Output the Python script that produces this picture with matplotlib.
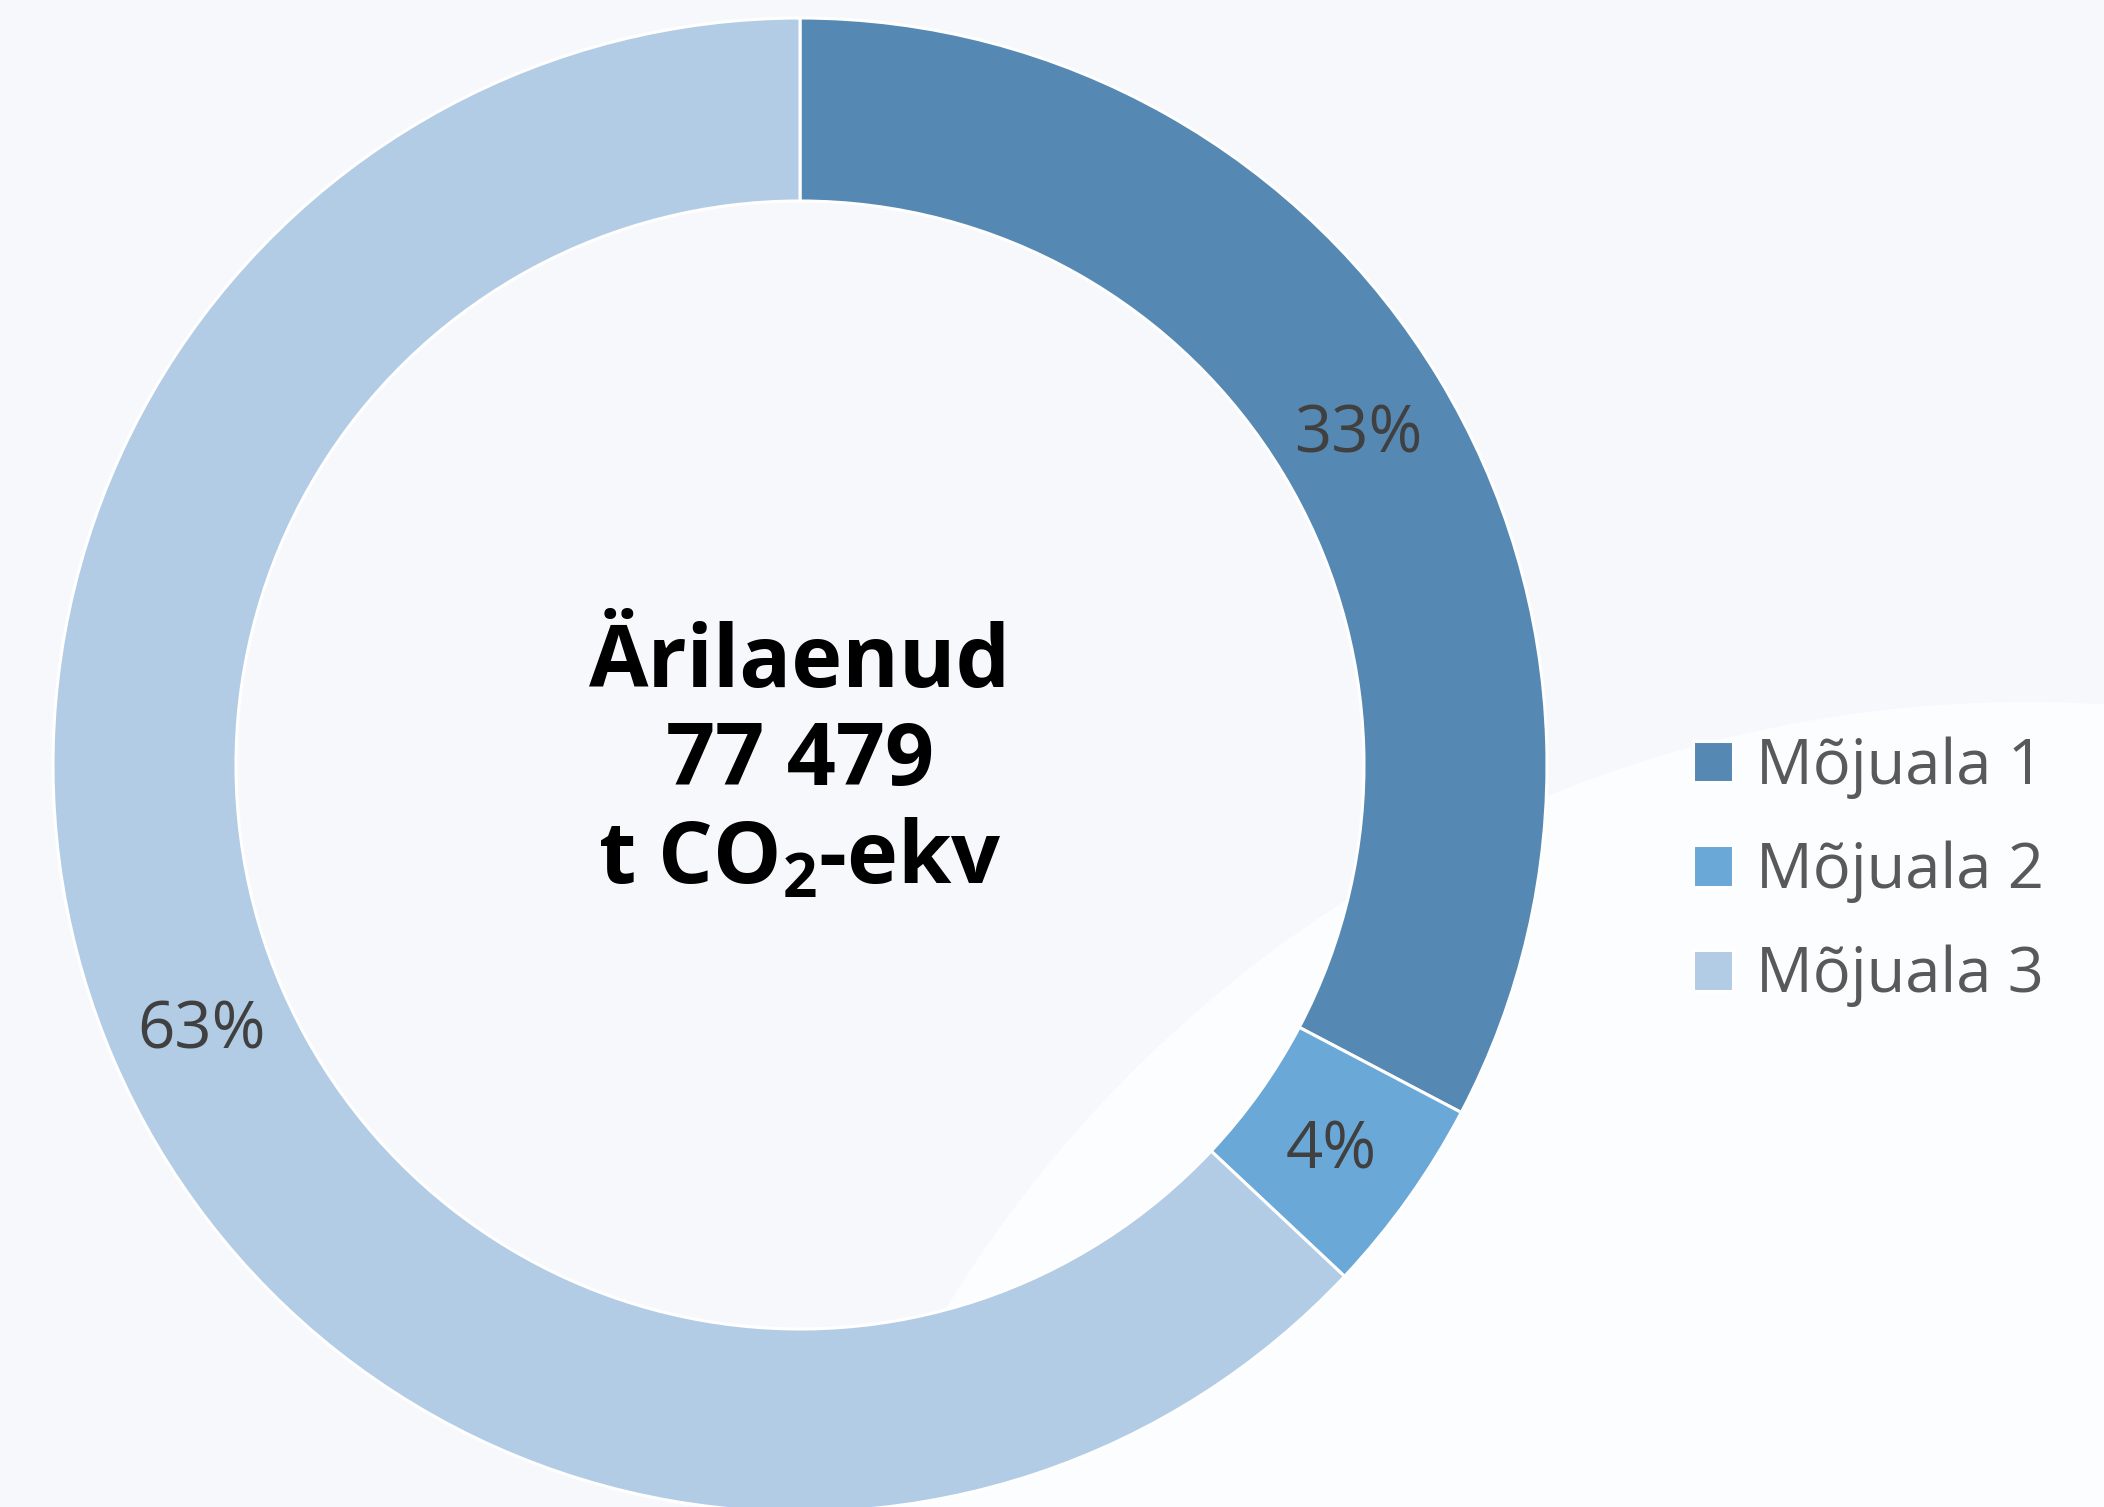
import matplotlib.pyplot as plt
from matplotlib.patches import Circle

# data
labels = ["Mõjuala 1", "Mõjuala 2", "Mõjuala 3"]
shares = [32.7, 4.3, 63.0]
colors = ["#5589b3", "#6aa8d8", "#b2cce6"]
total_text = "Ärilaenud\n77 479\nt CO$_2$-ekv"

plt.rcParams["font.family"] = ["Open Sans", "DejaVu Sans"]
plt.rcParams["mathtext.fontset"] = "custom"
plt.rcParams["mathtext.rm"] = "Open Sans:bold"
plt.rcParams["mathtext.bf"] = "Open Sans:bold"
plt.rcParams["mathtext.default"] = "bf"

W, H = 2104, 1507
fig = plt.figure(figsize=(W / 100, H / 100), dpi=100)
fig.patch.set_facecolor("#f7f8fc")
ax = fig.add_axes([0, 0, 1, 1])
ax.set_facecolor("#f7f8fc")

# big soft background circle (decoration)
ax.add_patch(Circle((2026, H - 1967), 1265, facecolor="#fcfdff", edgecolor="none", zorder=0))

cx, cy = 800, H - 765
r_out, r_in = 747, 564
wedges, _, autotexts = ax.pie(
    shares, colors=colors, startangle=90, counterclock=False,
    center=(cx, cy), radius=r_out, autopct="%.0f%%",
    pctdistance=(r_out + r_in) / 2 / r_out - 0.005,
    wedgeprops=dict(width=r_out - r_in, edgecolor="white", linewidth=2.2),
    textprops=dict(fontsize=47, color="#404040"),
)
# nudge the percentage labels down a touch (optical centering)
for t in autotexts:
    t.set_y(t.get_position()[1] - 8)

ax.text(cx, cy + 2, total_text, ha="center", va="center", fontsize=62,
        fontweight="bold", color="black", linespacing=1.17, zorder=5)

leg = ax.legend(wedges, labels, loc="center left", bbox_to_anchor=(1693, H - 872),
                bbox_transform=ax.transData, frameon=False, fontsize=45.5,
                handlelength=0.63, handleheight=0.63, handletextpad=0.36,
                labelspacing=0.66, borderpad=0, borderaxespad=0)
for t in leg.get_texts():
    t.set_color("#595959")

ax.set_xlim(0, W)
ax.set_ylim(0, H)
ax.set_aspect("equal")
ax.axis("off")

fig.savefig("out.png", dpi=100, facecolor=fig.get_facecolor())
